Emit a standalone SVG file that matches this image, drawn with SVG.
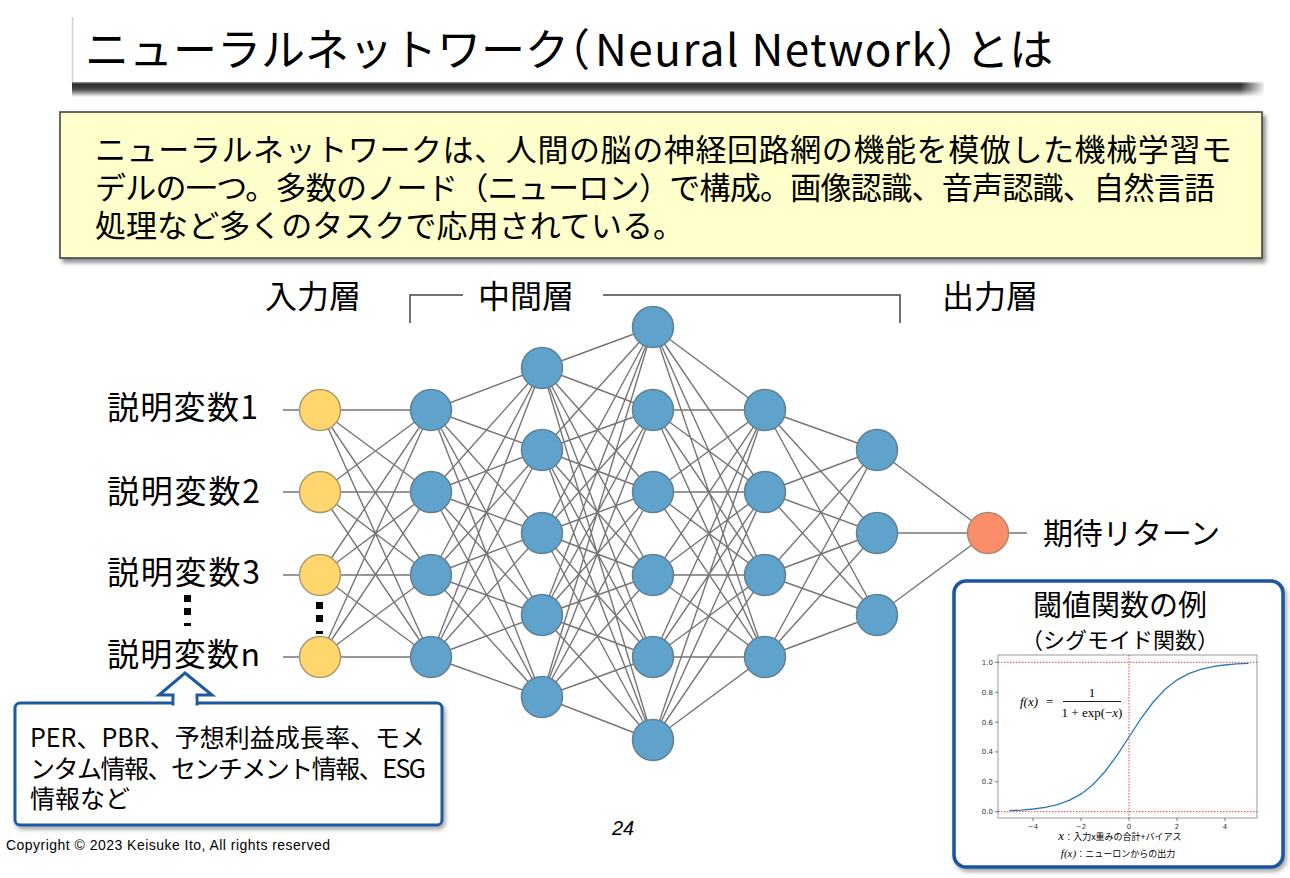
<svg xmlns="http://www.w3.org/2000/svg" width="1290" height="878" viewBox="0 0 1290 878">
<style>
.jp{font-family:"Noto Sans CJK JP","Noto Sans",sans-serif;fill:#000}
.lbl{font-size:32px}
.blue{fill:#5fa3cc;stroke:#5f7f92;stroke-width:1.5}
.yel{fill:#ffd76e;stroke:#a89a6c;stroke-width:1.5}
.org{fill:#fc8d6a;stroke:#a98a78;stroke-width:1.5}
.conn{fill:none;stroke:#333;stroke-opacity:0.68;stroke-width:1.4}
.tick{font-family:"DejaVu Sans",sans-serif;font-size:7px;fill:#333}
.red{stroke:#e04040;stroke-width:1;stroke-dasharray:1.5 1.5;fill:none}
.serif{font-family:"Liberation Serif",serif;font-style:italic}
</style>
<defs>
<linearGradient id="shadowGrad" x1="0" y1="0" x2="0" y2="1">
<stop offset="0" stop-color="#9a9a9a"/>
<stop offset="0.15" stop-color="#2a2a2a"/>
<stop offset="0.5" stop-color="#4a4a4a"/>
<stop offset="1" stop-color="#ffffff"/>
</linearGradient>
<linearGradient id="shadowFadeR" x1="0" y1="0" x2="1" y2="0">
<stop offset="0" stop-color="#fff" stop-opacity="0"/>
<stop offset="1" stop-color="#fff" stop-opacity="1"/>
</linearGradient>
<filter id="ds" x="-5%" y="-10%" width="115%" height="130%">
<feDropShadow dx="3" dy="4" stdDeviation="2" flood-color="#000" flood-opacity="0.45"/>
</filter>
<filter id="ds2" x="-5%" y="-10%" width="115%" height="130%">
<feDropShadow dx="2" dy="3" stdDeviation="2" flood-color="#000" flood-opacity="0.35"/>
</filter>
</defs>
<rect width="1290" height="878" fill="#fff"/>

<!-- Title -->
<g id="title">
<line x1="72.5" y1="17" x2="72.5" y2="83" stroke="#cfcfcf" stroke-width="1.5"/>
<rect x="72" y="82" width="1192" height="15" fill="url(#shadowGrad)"/>
<rect x="1240" y="82" width="26" height="15" fill="url(#shadowFadeR)"/>
<text class="jp" x="85" y="66" font-size="44">ニューラルネットワーク<tspan dx="-23">（</tspan><tspan dx="5" letter-spacing="1.5">Neural Network</tspan><tspan dx="-1">）</tspan><tspan dx="-15">とは</tspan></text>
</g>

<!-- Description box -->
<g id="description">
<rect x="60" y="112" width="1202" height="146" fill="#ffffcc" stroke="#3a3a3a" stroke-width="1.5" filter="url(#ds)"/>
<text class="jp" font-size="31" x="95" y="161" textLength="1137" lengthAdjust="spacing">ニューラルネットワークは、人間の脳の神経回路網の機能を模倣した機械学習モ</text>
<text class="jp" font-size="31" x="95" y="199" textLength="1120" lengthAdjust="spacing">デルの一つ。多数のノード（ニューロン）で構成。画像認識、音声認識、自然言語</text>
<text class="jp" font-size="31" x="95" y="237" textLength="589" lengthAdjust="spacing">処理など多くのタスクで応用されている。</text>
</g>

<!-- Layer labels -->
<g id="layer-labels">
<text class="jp lbl" x="265" y="308">入力層</text>
<text class="jp lbl" x="478" y="308">中間層</text>
<text class="jp lbl" x="942" y="308">出力層</text>
<path d="M410 323V295H463M603 295H900V323" fill="none" stroke="#444" stroke-width="1.5"/>
</g>

<!-- Connectors -->
<g id="connectors">
<path class="conn" d="M283 410H300M283 492H300M283 575H300M283 657H300M1008 533H1027"/>
<path class="conn" d="M320 410L431 410M320 410L431 492M320 410L431 575M320 410L431 657M320 492L431 410M320 492L431 492M320 492L431 575M320 492L431 657M320 575L431 410M320 575L431 492M320 575L431 575M320 575L431 657M320 657L431 410M320 657L431 492M320 657L431 575M320 657L431 657"/>
<path class="conn" d="M431 410L542 368M431 410L542 450M431 410L542 533M431 410L542 615M431 410L542 697M431 492L542 368M431 492L542 450M431 492L542 533M431 492L542 615M431 492L542 697M431 575L542 368M431 575L542 450M431 575L542 533M431 575L542 615M431 575L542 697M431 657L542 368M431 657L542 450M431 657L542 533M431 657L542 615M431 657L542 697"/>
<path class="conn" d="M542 368L653 327M542 368L653 410M542 368L653 492M542 368L653 575M542 368L653 657M542 368L653 740M542 450L653 327M542 450L653 410M542 450L653 492M542 450L653 575M542 450L653 657M542 450L653 740M542 533L653 327M542 533L653 410M542 533L653 492M542 533L653 575M542 533L653 657M542 533L653 740M542 615L653 327M542 615L653 410M542 615L653 492M542 615L653 575M542 615L653 657M542 615L653 740M542 697L653 327M542 697L653 410M542 697L653 492M542 697L653 575M542 697L653 657M542 697L653 740"/>
<path class="conn" d="M653 327L765 410M653 327L765 492M653 327L765 575M653 327L765 657M653 410L765 410M653 410L765 492M653 410L765 575M653 410L765 657M653 492L765 410M653 492L765 492M653 492L765 575M653 492L765 657M653 575L765 410M653 575L765 492M653 575L765 575M653 575L765 657M653 657L765 410M653 657L765 492M653 657L765 575M653 657L765 657M653 740L765 410M653 740L765 492M653 740L765 575M653 740L765 657"/>
<path class="conn" d="M765 410L877 450M765 410L877 533M765 410L877 615M765 492L877 450M765 492L877 533M765 492L877 615M765 575L877 450M765 575L877 533M765 575L877 615M765 657L877 450M765 657L877 533M765 657L877 615"/>
<path class="conn" d="M877 450L988 533M877 533L988 533M877 615L988 533"/>
</g>

<!-- Nodes -->
<g id="input-layer">
<circle class="yel" cx="320" cy="410" r="20.5"/>
<circle class="yel" cx="320" cy="492" r="20.5"/>
<circle class="yel" cx="320" cy="575" r="20.5"/>
<circle class="yel" cx="320" cy="657" r="20.5"/>
</g>
<g id="hidden-layer-1">
<circle class="blue" cx="431" cy="410" r="20.5"/>
<circle class="blue" cx="431" cy="492" r="20.5"/>
<circle class="blue" cx="431" cy="575" r="20.5"/>
<circle class="blue" cx="431" cy="657" r="20.5"/>
</g>
<g id="hidden-layer-2">
<circle class="blue" cx="542" cy="368" r="20.5"/>
<circle class="blue" cx="542" cy="450" r="20.5"/>
<circle class="blue" cx="542" cy="533" r="20.5"/>
<circle class="blue" cx="542" cy="615" r="20.5"/>
<circle class="blue" cx="542" cy="697" r="20.5"/>
</g>
<g id="hidden-layer-3">
<circle class="blue" cx="653" cy="327" r="20.5"/>
<circle class="blue" cx="653" cy="410" r="20.5"/>
<circle class="blue" cx="653" cy="492" r="20.5"/>
<circle class="blue" cx="653" cy="575" r="20.5"/>
<circle class="blue" cx="653" cy="657" r="20.5"/>
<circle class="blue" cx="653" cy="740" r="20.5"/>
</g>
<g id="hidden-layer-4">
<circle class="blue" cx="765" cy="410" r="20.5"/>
<circle class="blue" cx="765" cy="492" r="20.5"/>
<circle class="blue" cx="765" cy="575" r="20.5"/>
<circle class="blue" cx="765" cy="657" r="20.5"/>
</g>
<g id="hidden-layer-5">
<circle class="blue" cx="877" cy="450" r="20.5"/>
<circle class="blue" cx="877" cy="533" r="20.5"/>
<circle class="blue" cx="877" cy="615" r="20.5"/>
</g>
<g id="output-layer">
<circle class="org" cx="988" cy="533" r="20.5"/>
</g>

<!-- Input labels -->
<g id="input-labels">
<text class="jp lbl" x="107" y="419" textLength="151" lengthAdjust="spacing">説明変数1</text>
<text class="jp lbl" x="107" y="503" textLength="153" lengthAdjust="spacing">説明変数2</text>
<text class="jp lbl" x="107" y="584" textLength="153" lengthAdjust="spacing">説明変数3</text>
<text class="jp lbl" x="107" y="666" textLength="153" lengthAdjust="spacing">説明変数n</text>
<rect x="184" y="595" width="7" height="7" fill="#000"/>
<rect x="184" y="608" width="7" height="7" fill="#000"/>
<rect x="184" y="623" width="7" height="3" fill="#000"/>
<rect x="316" y="602" width="7" height="7" fill="#000"/>
<rect x="316" y="615" width="7" height="7" fill="#000"/>
<rect x="316" y="631" width="7" height="3" fill="#000"/>
</g>

<!-- Output label -->
<g id="output-label">
<text class="jp" font-size="30" x="1043" y="544" textLength="177" lengthAdjust="spacing">期待リターン</text>
</g>

<!-- Feature box -->
<g id="feature-box">
<rect x="15" y="703" width="427" height="122" rx="5" fill="#fff" stroke="#1f5aa0" stroke-width="3" filter="url(#ds2)"/>
<polygon points="185,673 212,695 197,695 197,704 173,704 173,695 159,695" fill="#fff" stroke="#1f5aa0" stroke-width="3" stroke-linejoin="miter"/>
<rect x="174.5" y="700" width="21" height="6" fill="#fff"/>
<text class="jp" font-size="25" x="30" y="747" textLength="395" lengthAdjust="spacing">PER、PBR、予想利益成長率、モメ</text>
<text class="jp" font-size="25" x="30" y="778" textLength="396" lengthAdjust="spacing">ンタム情報、センチメント情報、ESG</text>
<text class="jp" font-size="25" x="30" y="808">情報など</text>
</g>

<!-- Footer -->
<g id="footer">
<text x="6" y="850" font-family="Liberation Sans,Arial,sans-serif" font-size="14" textLength="324" lengthAdjust="spacing">Copyright © 2023 Keisuke Ito, All rights reserved</text>
<text x="612" y="835" font-family="Liberation Sans,Arial,sans-serif" font-size="20" font-style="italic">24</text>
</g>

<!-- Sigmoid box -->
<g id="sigmoid-box">
<rect x="954" y="581" width="329" height="286" rx="12" fill="#fff" stroke="#1a55a0" stroke-width="3.5" filter="url(#ds2)"/>
<text class="jp" font-size="29" x="1120" y="616" text-anchor="middle">閾値関数の例</text>
<text class="jp" font-size="22" x="1120" y="648" text-anchor="middle">（シグモイド関数）</text>
<rect x="998" y="655" width="259" height="163" fill="#fff" stroke="#999" stroke-width="1"/>
<path class="red" d="M998 662.3H1257M998 811.7H1257M1129 655V818"/>
<polyline fill="none" stroke="#2e78b8" stroke-width="1.3" points="1009.5,810.7 1021.45,810.06 1033.4,809.0 1045.35,807.3 1057.3,804.6 1069.25,800.4 1081.2,793.9 1093.15,784.5 1105.1,771.5 1117.05,755.3 1129,737.0 1140.95,718.7 1152.9,702.5 1164.85,689.5 1176.8,680.1 1188.75,673.6 1200.7,669.4 1212.65,666.7 1224.6,665.0 1236.55,663.9 1248.5,663.3"/>
<path d="M998 662.3h-3M998 692.2h-3M998 722.1h-3M998 751.9h-3M998 781.8h-3M998 811.7h-3M1033 818v3M1081 818v3M1129 818v3M1177 818v3M1225 818v3" stroke="#555" stroke-width="0.8"/>
<text class="tick" x="993" y="664.8" text-anchor="end">1.0</text>
<text class="tick" x="993" y="694.7" text-anchor="end">0.8</text>
<text class="tick" x="993" y="724.6" text-anchor="end">0.6</text>
<text class="tick" x="993" y="754.4" text-anchor="end">0.4</text>
<text class="tick" x="993" y="784.3" text-anchor="end">0.2</text>
<text class="tick" x="993" y="814.2" text-anchor="end">0.0</text>
<text class="tick" x="1033" y="829" text-anchor="middle">−4</text>
<text class="tick" x="1081" y="829" text-anchor="middle">−2</text>
<text class="tick" x="1129" y="829" text-anchor="middle">0</text>
<text class="tick" x="1177" y="829" text-anchor="middle">2</text>
<text class="tick" x="1225" y="829" text-anchor="middle">4</text>
<text class="serif" x="1020" y="706" font-size="13">f(x)</text>
<text font-family="Liberation Serif,serif" x="1046" y="706" font-size="13">=</text>
<line x1="1063" y1="701.5" x2="1121" y2="701.5" stroke="#000" stroke-width="0.9"/>
<text font-family="Liberation Serif,serif" x="1092" y="697" font-size="13" text-anchor="middle">1</text>
<text font-family="Liberation Serif,serif" x="1092" y="717" font-size="13" text-anchor="middle">1 + exp(−<tspan font-style="italic">x</tspan>)</text>
<text x="1120" y="840" text-anchor="middle" font-size="9" class="jp" fill="#222"><tspan class="serif" font-size="13">x</tspan>：入力x重みの合計+バイアス</text>
<text x="1118" y="857" text-anchor="middle" font-size="9" class="jp" fill="#222"><tspan class="serif" font-size="11">f(x)</tspan>：ニューロンからの出力</text>
</g>
</svg>
